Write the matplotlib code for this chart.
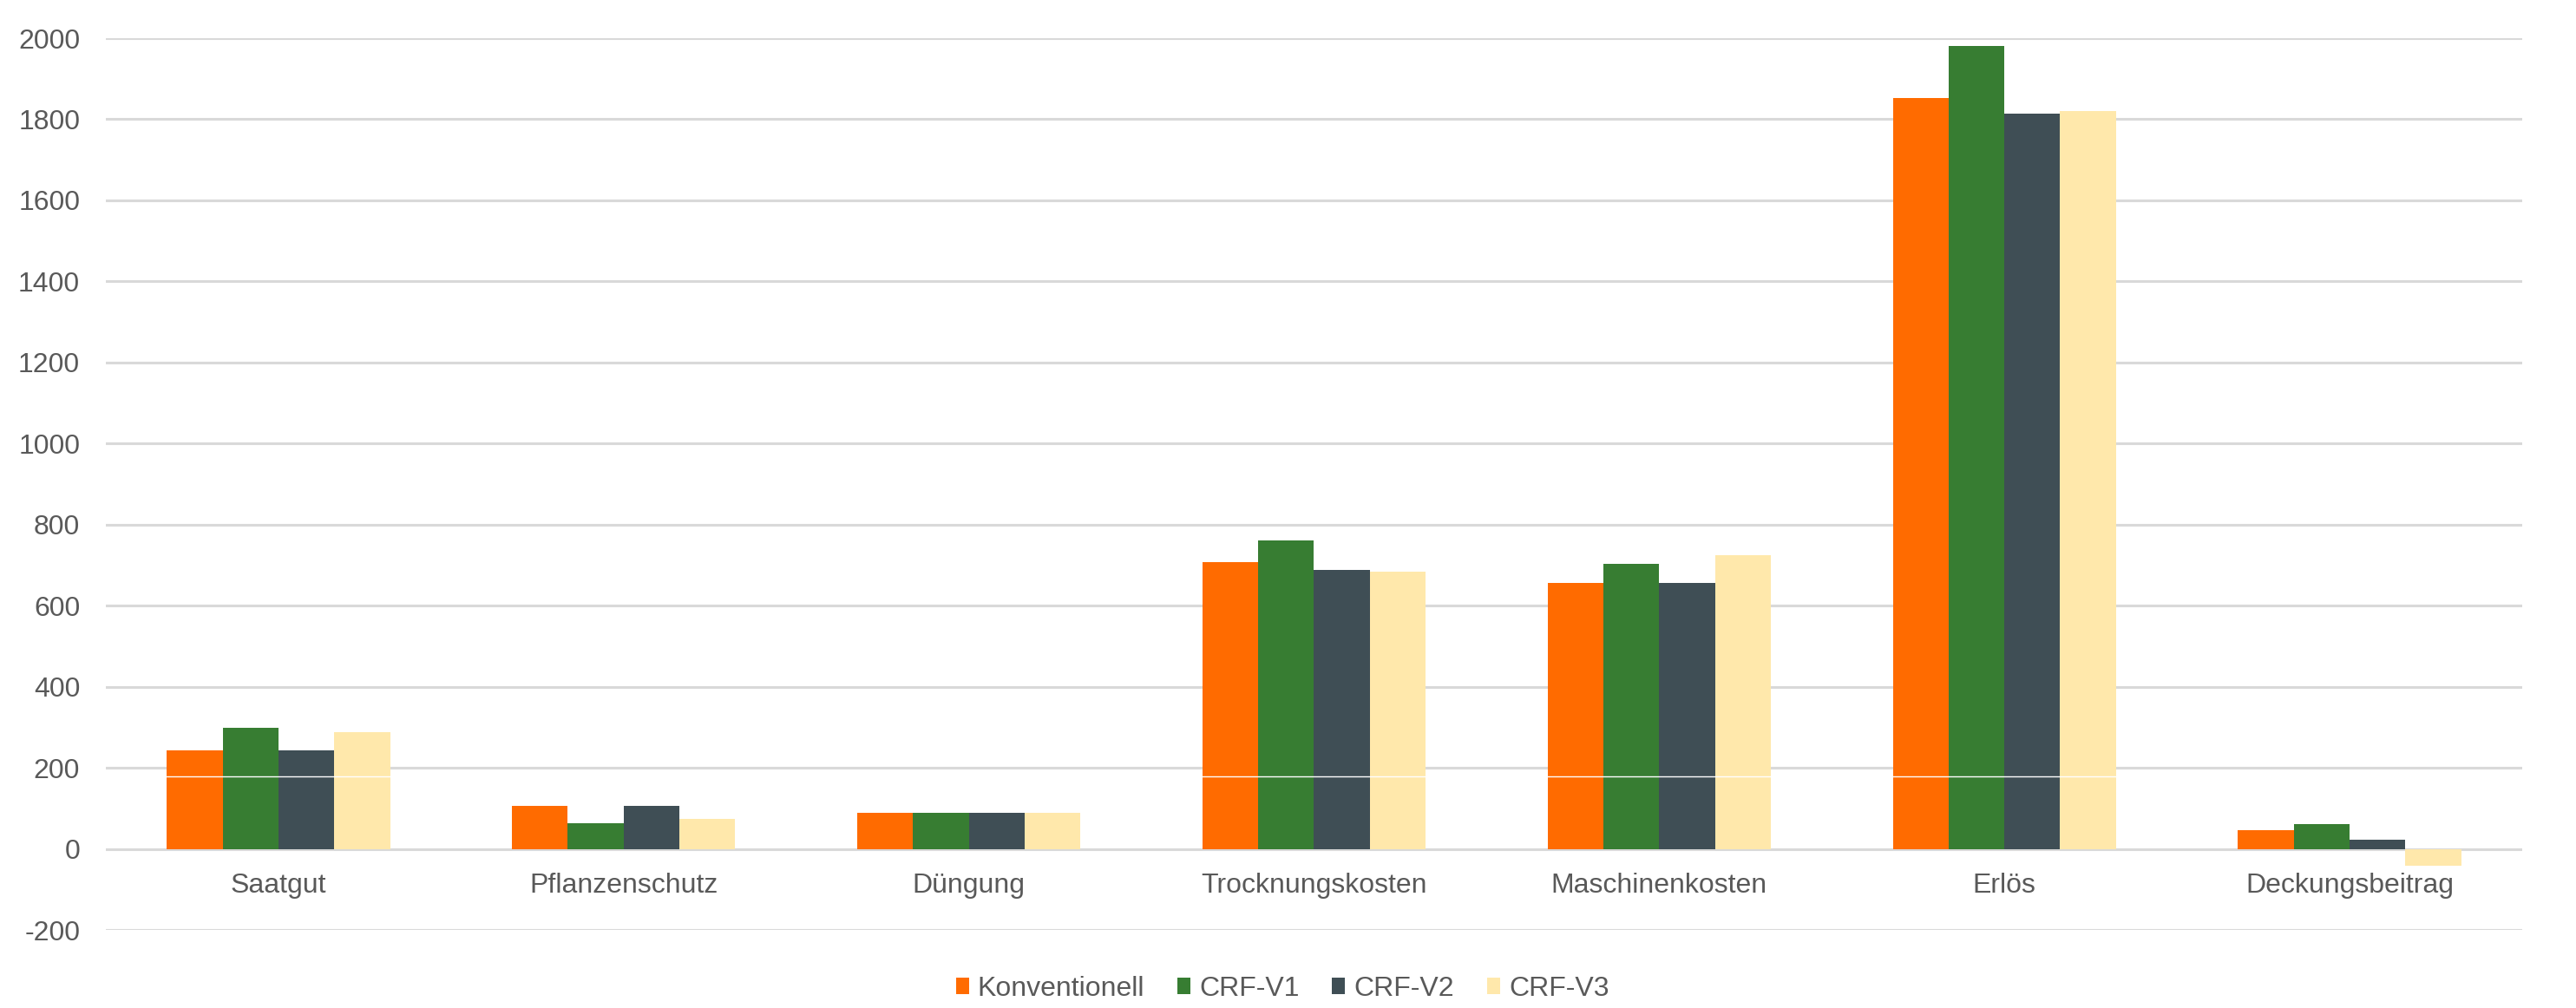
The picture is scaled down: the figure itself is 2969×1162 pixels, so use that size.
import numpy as np
import matplotlib
matplotlib.use("Agg")
import matplotlib.pyplot as plt
from matplotlib.ticker import FuncFormatter

# values (EUR/ha)
categories = ['Saatgut', 'Pflanzenschutz', 'Düngung', 'Trocknungskosten',
              'Maschinenkosten', 'Erlös', 'Deckungsbeitrag']
series_names = ['Konventionell', 'CRF-V1', 'CRF-V2', 'CRF-V3']
konventionell = [242, 106, 89, 708, 656, 1852, 47]
crf_v1 = [298, 63, 89, 761, 704, 1980, 61]
crf_v2 = [242, 106, 89, 688, 656, 1814, 23]
crf_v3 = [287, 74, 89, 684, 725, 1820, -42]
colors = ['#FF6B00', '#377D32', '#3F4E55', '#FFE8AB']
yticks = list(range(-200, 2001, 200))
white_line_level = 178  # faint white line visible across the bars

plt.rcParams['font.family'] = ['Liberation Sans', 'DejaVu Sans']
text_col = '#595959'

fig = plt.figure(figsize=(29.69, 11.62), dpi=100)
ax = fig.add_axes([0.04109, 0.07745, 0.93802, 0.88468])

x = np.arange(len(categories))
w = 0.1616
for i, (vals, name, col) in enumerate(zip([konventionell, crf_v1, crf_v2, crf_v3],
                                          series_names, colors)):
    ax.bar(x + (i - 1.5) * w, vals, w, color=col, label=name, zorder=3)
ax.axhline(white_line_level, color='white', linewidth=1.0, zorder=4)

ax.set_xlim(-0.5, len(categories) - 0.5)
ax.set_ylim(-200, 2000)
ax.set_yticks(yticks)
ax.yaxis.set_major_formatter(FuncFormatter(lambda v, p: '%d' % v))
ax.set_xticks(x)
ax.set_xticklabels(categories)
ax.grid(axis='y', color='#D9D9D9', linewidth=2.2, zorder=0)
for s in ['top', 'right', 'left']:
    ax.spines[s].set_visible(False)
ax.spines['bottom'].set_position(('data', 0))
ax.spines['bottom'].set_visible(False)
ax.tick_params(axis='x', length=0, pad=20, labelsize=23, labelcolor=text_col)
ax.tick_params(axis='y', length=0, pad=21.5, labelsize=23, labelcolor=text_col)

fig.legend(loc='center', bbox_to_anchor=(1478 / 2969, 0.019), ncol=4, frameon=False,
           fontsize=23, labelcolor=text_col, handlelength=0.47, handleheight=0.5,
           handletextpad=0.31, columnspacing=1.19, borderpad=0)

fig.savefig('out.png', dpi=100)
